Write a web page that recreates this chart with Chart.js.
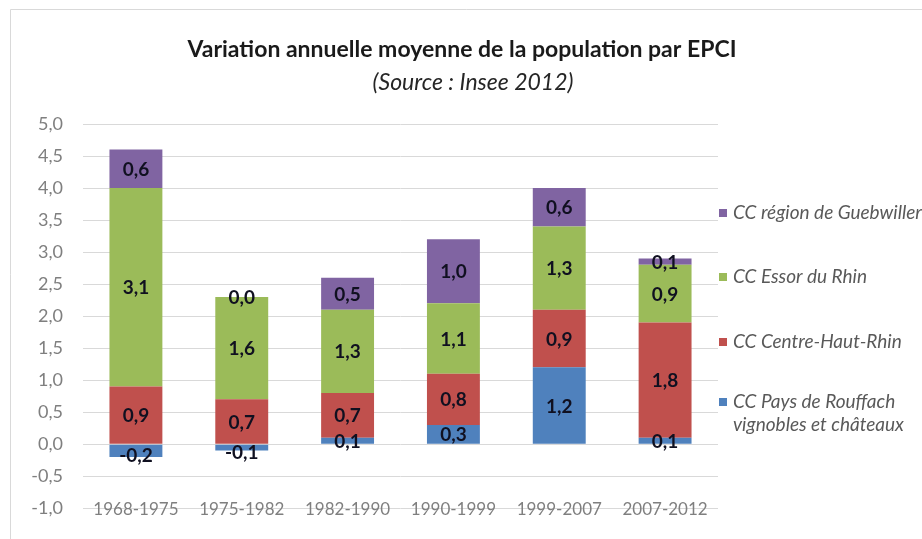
<!DOCTYPE html>
<html>
<head>
<meta charset="utf-8">
<script src="https://cdn.jsdelivr.net/npm/chart.js@4/dist/chart.umd.min.js"></script>
<style>
  html, body { margin: 0; padding: 0; background: #fff; }
  #wrap { width: 922px; height: 539px; position: relative; }
</style>
</head>
<body>
<div id="wrap"><canvas id="popChart" width="922" height="539"></canvas></div>
<script>
// periods on the x axis
const periods = ['1968-1975', '1975-1982', '1982-1990', '1990-1999', '1999-2007', '2007-2012'];

// annual mean variation (%) per EPCI, stacked bottom -> top
const rouffach = [-0.2, -0.1, 0.1, 0.3, 1.2, 0.1];
const centreHautRhin = [0.9, 0.7, 0.7, 0.8, 0.9, 1.8];
const essorRhin = [3.1, 1.6, 1.3, 1.1, 1.3, 0.9];
const guebwiller = [0.6, 0.0, 0.5, 1.0, 0.6, 0.1];

const seriesNames = ['CC Pays de Rouffach\nvignobles et châteaux', 'CC Centre-Haut-Rhin', 'CC Essor du Rhin', 'CC région de Guebwiller'];
const seriesColors = ['#4F81BD', '#C0504D', '#9BBB59', '#8064A2'];

const yMin = -1, yMax = 5, yStep = 0.5;

const fmt = v => v.toFixed(1).replace('.', ',');

Chart.defaults.font.family = 'Lato, "Open Sans", sans-serif';

// frame + titles + category labels
const decoPlugin = {
  id: 'deco',
  beforeDraw(chart) {
    const ctx = chart.ctx;
    ctx.save();
    ctx.strokeStyle = '#d9d9d9';
    ctx.lineWidth = 1;
    ctx.beginPath();
    ctx.moveTo(10.5, 539);
    ctx.lineTo(10.5, 9.5);
    ctx.lineTo(922, 9.5);
    ctx.stroke();
    ctx.restore();
  },
  afterDraw(chart) {
    const ctx = chart.ctx;
    const xs = chart.scales.x;
    ctx.save();
    ctx.textAlign = 'center';
    ctx.textBaseline = 'middle';
    ctx.fillStyle = '#1a1a1a';
    ctx.font = 'bold 23px Lato';
    ctx.fillText('Variation annuelle moyenne de la population par EPCI', 462, 50);
    ctx.fillStyle = '#262626';
    ctx.font = 'italic 23px Lato';
    ctx.fillText('(Source : Insee 2012)', 473, 83);
    ctx.fillStyle = '#7f7f7f';
    ctx.font = '17px Lato';
    periods.forEach((p, i) => ctx.fillText(p, xs.getPixelForValue(i), 510));
    ctx.restore();
  }
};

// value labels in the middle of each segment
const valueLabels = {
  id: 'valueLabels',
  afterDatasetsDraw(chart) {
    const ctx = chart.ctx;
    const ys = chart.scales.y;
    ctx.save();
    ctx.font = 'bold 19px Lato';
    ctx.textAlign = 'center';
    ctx.textBaseline = 'middle';
    ctx.fillStyle = '#101020';
    chart.data.datasets.forEach((ds, i) => {
      const meta = chart.getDatasetMeta(i);
      meta.data.forEach((bar, j) => {
        const p = bar.getProps(['x', 'y', 'base'], true);
        let y = (p.y + p.base) / 2;
        if (ds.data[j] === 0) {
          // empty segment: label sits on top of the positive stack below it
          let top = 0;
          for (let k = 0; k < i; k++) {
            const v = chart.data.datasets[k].data[j];
            if (v > 0) top += v;
          }
          y = ys.getPixelForValue(top);
        } else if (ds.data[j] < 0) {
          y += 4;
        }
        ctx.fillText(fmt(ds.data[j]), p.x, y + 1);
      });
    });
    ctx.restore();
  }
};

// legend on the right, top item = top of the stack
const sideLegend = {
  id: 'sideLegend',
  afterDraw(chart) {
    const ctx = chart.ctx;
    const x = chart.chartArea.right + 1;
    const rows = [213, 277, 342, 402];
    ctx.save();
    ctx.font = 'italic 19px Lato';
    ctx.textBaseline = 'middle';
    ctx.textAlign = 'left';
    for (let k = 0; k < 4; k++) {
      const i = 3 - k;
      ctx.fillStyle = seriesColors[i];
      ctx.fillRect(x, rows[k] - 4, 8, 8);
      ctx.fillStyle = '#595959';
      seriesNames[i].split('\n').forEach((line, n) => {
        ctx.fillText(line, x + 14, rows[k] + n * 23);
      });
    }
    ctx.restore();
  }
};

new Chart(document.getElementById('popChart'), {
  type: 'bar',
  data: {
    labels: periods,
    datasets: [rouffach, centreHautRhin, essorRhin, guebwiller].map((d, i) => ({
      label: seriesNames[i],
      data: d,
      backgroundColor: seriesColors[i],
      categoryPercentage: 1,
      barPercentage: 0.5
    }))
  },
  options: {
    responsive: false,
    animation: false,
    layout: { padding: { top: 124, left: 13, right: 204, bottom: 17 } },
    plugins: {
      legend: { display: false },
      tooltip: { enabled: false }
    },
    scales: {
      x: {
        stacked: true,
        grid: { display: false, drawTicks: false },
        border: { display: false },
        ticks: { display: false },
        afterFit(axis) { axis.height = 1; }
      },
      y: {
        stacked: true,
        min: yMin,
        max: yMax,
        grid: { color: '#d9d9d9', drawTicks: false },
        border: { display: false },
        ticks: {
          stepSize: yStep,
          color: '#7f7f7f',
          padding: 20,
          font: { size: 18 },
          callback: v => fmt(v)
        },
        afterFit(axis) { axis.width = 70; }
      }
    }
  },
  plugins: [decoPlugin, valueLabels, sideLegend]
});
</script>
</body>
</html>
